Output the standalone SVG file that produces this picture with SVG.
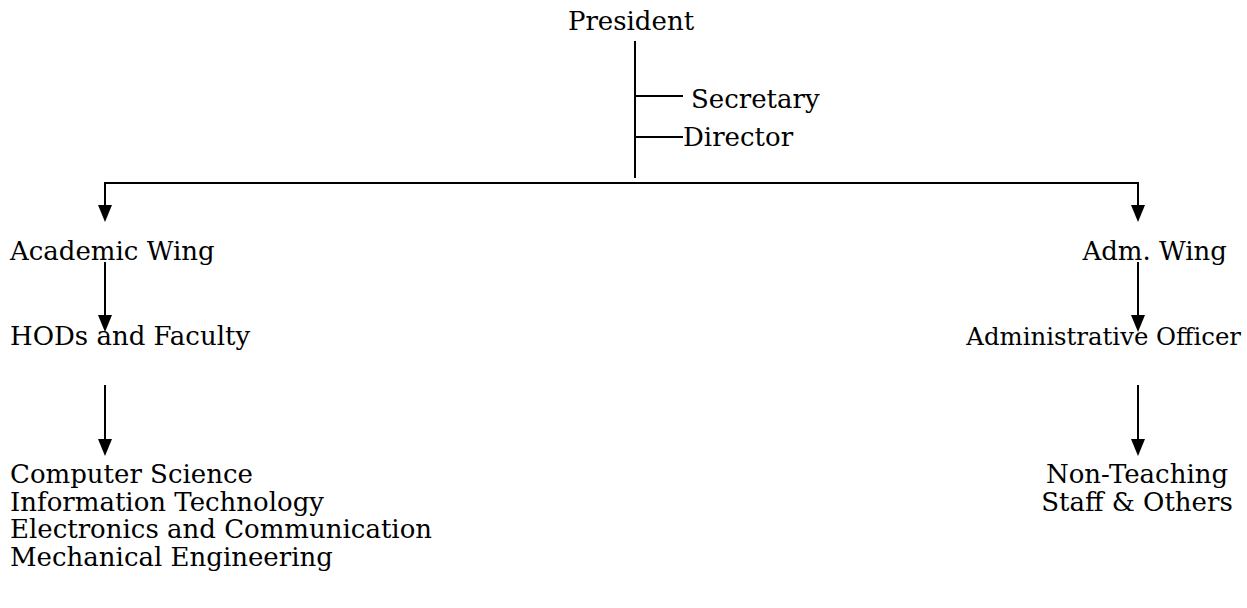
<svg xmlns="http://www.w3.org/2000/svg" width="1247" height="608" viewBox="0 0 1247 608">
<defs>
<style>
text{font-family:"DejaVu Serif","Liberation Serif",serif;font-size:26px;fill:#000}
.c{stroke:#000;stroke-width:2;fill:none}
.ah{fill:#000}
</style>
</defs>
<rect width="1247" height="608" fill="#fff"/>
<g id="connectors">
<line class="c" x1="635" y1="41" x2="635" y2="178"/>
<line class="c" x1="635" y1="96" x2="683" y2="96"/>
<line class="c" x1="635" y1="137" x2="683" y2="137"/>
<polyline class="c" points="105,210 105,183 1138,183 1138,210"/>
<path class="ah" d="M98,205 L112,205 L105,222 Z"/>
<path class="ah" d="M1131,205 L1145,205 L1138,222 Z"/>
<line class="c" x1="105" y1="262" x2="105" y2="316"/>
<path class="ah" d="M98,315 L112,315 L105,332 Z"/>
<line class="c" x1="105" y1="385" x2="105" y2="440"/>
<path class="ah" d="M98,439 L112,439 L105,456 Z"/>
<line class="c" x1="1138" y1="262" x2="1138" y2="316"/>
<path class="ah" d="M1131,315 L1145,315 L1138,332 Z"/>
<line class="c" x1="1138" y1="385" x2="1138" y2="440"/>
<path class="ah" d="M1131,439 L1145,439 L1138,456 Z"/>
</g>
<g id="president"><text x="631" y="30" text-anchor="middle">President</text></g>
<g id="secretary"><text x="691" y="108">Secretary</text></g>
<g id="director"><text x="683" y="146">Director</text></g>
<g id="academic-wing"><text x="10" y="260">Academic Wing</text></g>
<g id="adm-wing"><text x="1227" y="260" text-anchor="end">Adm. Wing</text></g>
<g id="hods"><text x="10" y="345">HODs and Faculty</text></g>
<g id="admin-officer"><text x="1241" y="345" text-anchor="end" style="font-size:24.4px">Administrative Officer</text></g>
<g id="departments">
<text x="10" y="483">Computer Science</text>
<text x="10" y="510.5">Information Technology</text>
<text x="10" y="538">Electronics and Communication</text>
<text x="10" y="565.5">Mechanical Engineering</text>
</g>
<g id="non-teaching">
<text x="1137" y="483" text-anchor="middle">Non-Teaching</text>
<text x="1137" y="510.5" text-anchor="middle">Staff &amp; Others</text>
</g>
</svg>
